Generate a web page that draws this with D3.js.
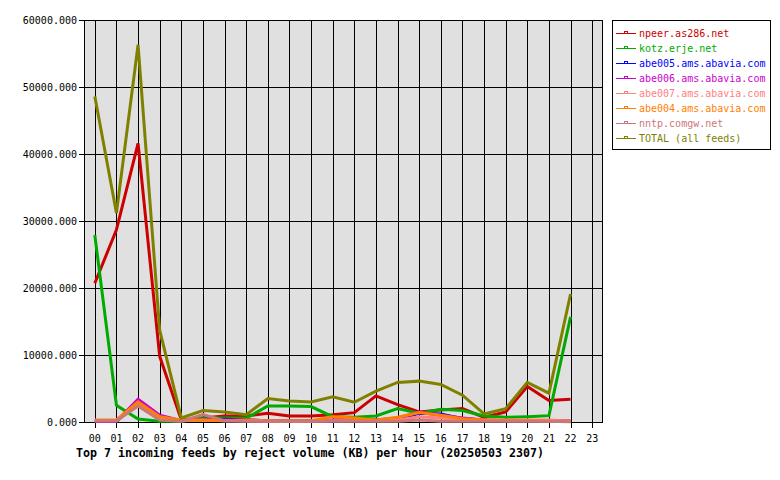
<!DOCTYPE html>
<html><head><meta charset="utf-8">
<script src="https://cdn.jsdelivr.net/npm/d3@7"></script>
<style>
body{margin:0;background:#fff;}
text{font-family:"DejaVu Sans Mono","Liberation Mono",monospace;}
</style></head>
<body><svg id="c" width="780" height="480"></svg>
<script>
const hours = ["00","01","02","03","04","05","06","07","08","09","10","11","12","13","14","15","16","17","18","19","20","21","22","23"];
const yTicks = [0,10000,20000,30000,40000,50000,60000];
const seriesNames = ["npeer.as286.net","kotz.erje.net","abe005.ams.abavia.com","abe006.ams.abavia.com","abe007.ams.abavia.com","abe004.ams.abavia.com","nntp.comgw.net","TOTAL (all feeds)"];
const seriesColors = ["#cc0000","#00aa00","#0000ff","#cc00cc","#ff8080","#ff8000","#cc7777","#808000"];
const npeer  = [20700,28700,41600,9800,300,600,900,900,1300,900,900,1100,1400,3900,2600,1500,1800,2000,700,1500,5300,3200,3400];
const kotz   = [27900,2500,450,100,100,600,600,550,2400,2400,2300,800,700,900,2000,1300,1900,1700,900,700,800,950,15700];
const abe005 = [100,100,2800,700,200,400,400,300,200,200,200,200,300,300,400,1300,1200,500,300,200,200,200,100];
const abe006 = [100,100,3400,1000,200,300,300,300,200,200,200,300,400,300,600,1500,1000,600,300,200,200,200,100];
const abe007 = [200,200,2800,700,200,300,200,200,100,100,100,200,200,200,300,800,600,400,300,300,300,300,100];
const abe004 = [300,300,3000,800,300,300,200,300,200,200,200,800,600,300,700,1400,1000,500,300,200,200,100,100];
const nntp   = [200,200,2400,300,100,1100,200,100,100,100,100,100,100,100,100,300,100,100,100,100,100,100,50];
const total  = [48600,31200,56300,13700,600,1700,1500,1100,3500,3150,3000,3750,2950,4600,5900,6100,5600,4000,1200,2000,5900,4300,19100];
const allSeries = [npeer,kotz,abe005,abe006,abe007,abe004,nntp,total];
const title = "Top 7 incoming feeds by reject volume (KB) per hour (20250503 2307)";

const svg = d3.select("#c");
const L=84, R=603, T=20, B=422;
const x = d3.scaleLinear().domain([-0.5,23.5]).range([L,R]);
const y = d3.scaleLinear().domain([0,60000]).range([B,T]);

svg.append("rect").attr("x",L).attr("y",T).attr("width",R-L).attr("height",B-T)
  .attr("fill","#e0e0e0");

const g = svg.append("g").attr("shape-rendering","crispEdges");
// vertical grid + ticks
hours.forEach((h,i)=>{
  g.append("line").attr("x1",Math.round(x(i))+0.5).attr("x2",Math.round(x(i))+0.5)
   .attr("y1",T).attr("y2",B+6).attr("stroke","#000");
  svg.append("text").attr("x",x(i)).attr("y",442).attr("text-anchor","middle")
   .attr("font-size","10px").text(h);
});
yTicks.forEach(v=>{
  g.append("line").attr("x1",L-5).attr("x2",R).attr("y1",Math.round(y(v))+0.5).attr("y2",Math.round(y(v))+0.5)
   .attr("stroke","#000");
  svg.append("text").attr("x",77).attr("y",y(v)+3.5).attr("text-anchor","end")
   .attr("font-size","10px").text(d3.format(".3f")(v));
});
g.append("rect").attr("x",L+0.5).attr("y",T+0.5).attr("width",R-L-1).attr("height",B-T)
  .attr("fill","none").attr("stroke","#000");

const line = d3.line().x((d,i)=>x(i)).y(d=>y(d));
allSeries.forEach((s,k)=>{
  svg.append("path").attr("d",line(s)).attr("fill","none")
    .attr("stroke",seriesColors[k]).attr("stroke-width",3).attr("stroke-linejoin","miter");
});

// legend
const lg = svg.append("g");
lg.append("rect").attr("x",612.5).attr("y",20.5).attr("width",158).attr("height",129)
  .attr("fill","#fff").attr("stroke","#000").attr("shape-rendering","crispEdges");
seriesNames.forEach((n,k)=>{
  const yy = 33 + k*15;
  lg.append("line").attr("x1",616).attr("x2",636).attr("y1",yy+0.5).attr("y2",yy+0.5)
    .attr("stroke",seriesColors[k]).attr("shape-rendering","crispEdges");
  lg.append("rect").attr("x",624.5).attr("y",yy-1.5).attr("width",3).attr("height",2)
    .attr("fill","none").attr("stroke",seriesColors[k]).attr("shape-rendering","crispEdges");
  lg.append("text").attr("x",639).attr("y",yy+4).attr("font-size","10px")
    .attr("fill",seriesColors[k]).text(n);
});

svg.append("text").attr("x",76).attr("y",457).attr("font-size","12px").attr("font-weight","bold")
  .attr("textLength",468).attr("lengthAdjust","spacingAndGlyphs").text(title);
</script></body></html>
